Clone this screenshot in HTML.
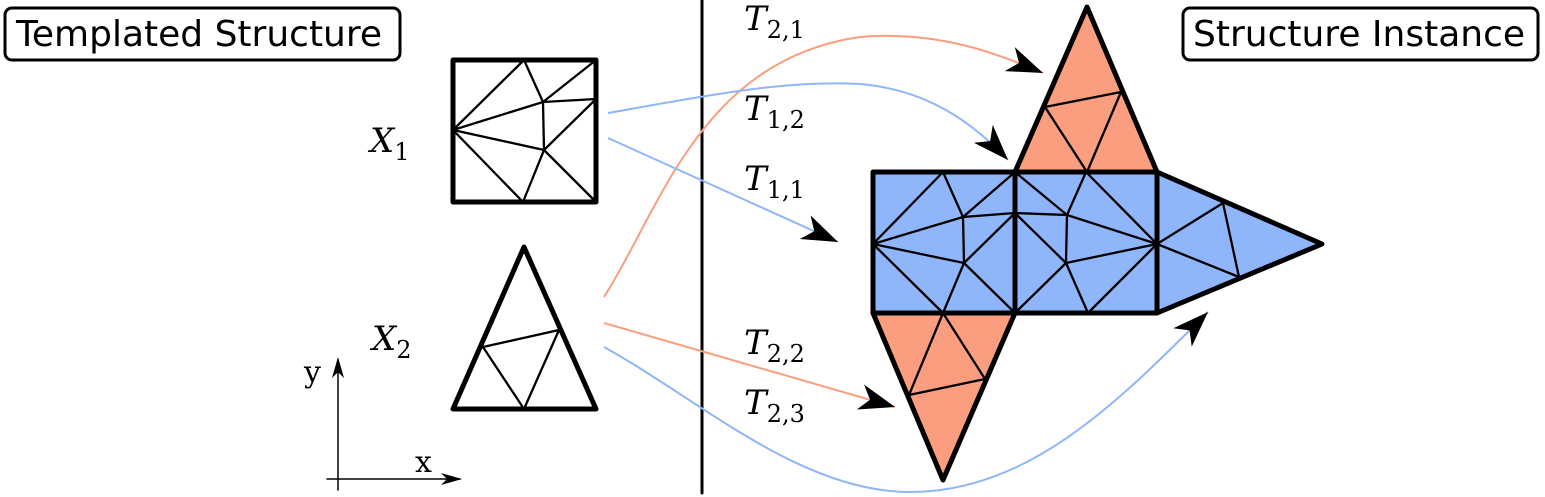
<!DOCTYPE html>
<html><head><meta charset="utf-8"><style>
html,body{margin:0;padding:0;background:#fff;}
svg{display:block;}
.lbl{font-family:"DejaVu Serif","Liberation Serif",serif;font-style:italic;font-size:34px;}
.sub{font-family:"DejaVu Serif","Liberation Serif",serif;font-style:normal;font-size:24px;}
.box{font-family:"DejaVu Sans","Liberation Sans",sans-serif;font-size:36px;}
</style></head><body>
<svg width="1545" height="497" viewBox="0 0 1545 497" xmlns="http://www.w3.org/2000/svg">
<defs>
<marker id="ah" markerUnits="userSpaceOnUse" markerWidth="40" markerHeight="30" refX="36" refY="15" orient="auto">
<path d="M0,2 L36,15 L0,28 L10,15 Z" fill="#000"/>
</marker>
</defs>
<g stroke="#000" stroke-linejoin="round" stroke-linecap="round" fill="none">
<rect x="5" y="8" width="395" height="52" rx="7" stroke-width="3"/>
<rect x="1183" y="8" width="355" height="52" rx="7" stroke-width="3"/>
<line x1="702" y1="0" x2="702" y2="493" stroke-width="3"/>
<g stroke-width="2.3">
<path d="M453,130 L524,60 L543,102 L596,60 M543,102 L596,99 M453,130 L543,102 L544,150 L453,130 M544,150 L596,99 M544,150 L596,202 M544,150 L523,202 L453,130"/>
</g>
<rect x="453" y="60" width="143" height="142" stroke-width="5"/>
<path d="M483,347 L559,330 L524,409 L483,347" stroke-width="2.3"/>
<path d="M524,247 L596,409 L453,409 Z" stroke-width="5"/>
<line x1="338" y1="490" x2="338" y2="360" stroke-width="1.5"/>
<path d="M338,357 L332,378 L338,372 L344,378 Z" fill="#000" stroke="none"/>
<line x1="327" y1="479" x2="460" y2="479" stroke-width="1.5"/>
<path d="M462,479 L441,473 L447,479 L441,485 Z" fill="#000" stroke="none"/>
</g>
<g stroke="#000" stroke-linejoin="round" stroke-linecap="round">
<path d="M1087,7 L1157,172 L1015,172 Z" fill="#fa9e7f" stroke="none"/>
<path d="M873,313 L1015,313 L943,480 Z" fill="#fa9e7f" stroke="none"/>
<path d="M873,172 L1157,172 L1322,244 L1157,313 L873,313 Z" fill="#8fb5fb" stroke="none"/>
<g fill="none" stroke-width="2.3">
<path d="M873,244 L943,172 L963,217 L1015,172 M963,217 L1015,213 M873,244 L963,217 L964,263 L873,244 M964,263 L1015,213 M964,263 L1015,313 M964,263 L943,313 L873,244"/>
<path d="M1015,172 L1067,215 L1086,172 L1157,244 M1015,213 L1067,215 L1157,244 M1067,215 L1066,263 L1157,244 M1015,213 L1066,263 L1015,313 M1066,263 L1088,313 L1157,244"/>
<path d="M1157,244 L1223,203 L1239,277 L1157,244"/>
<path d="M1045,107 L1121,92 L1087,172 L1045,107"/>
<path d="M909,395 L943,313 L985,379 L909,395"/>
</g>
<g fill="none" stroke-width="5">
<path d="M1087,7 L1157,172 L1015,172 Z"/>
<path d="M873,313 L1015,313 L943,480 Z"/>
<rect x="873" y="172" width="142" height="141"/>
<rect x="1015" y="172" width="142" height="141"/>
<path d="M1157,172 L1322,244 L1157,313"/>
</g>
</g>
<g fill="none" stroke-width="2">
<path d="M604,297 C 660,210 700,60 860,37 C 940,30 1000,55 1043,73" stroke="#fa9e7f" marker-end="url(#ah)"/>
<path d="M608,113 C 700,97 780,80 860,84 C 930,90 975,125 1008,160" stroke="#8fb5fb" marker-end="url(#ah)"/>
<path d="M608,138 L838,242" stroke="#8fb5fb" marker-end="url(#ah)"/>
<path d="M604,323 L895,407" stroke="#fa9e7f" marker-end="url(#ah)"/>
<path d="M604,347 C 700,400 800,492 910,492 C 1030,492 1120,400 1208,312" stroke="#8fb5fb" marker-end="url(#ah)"/>
</g>
<text x="16" y="46" class="box">Templated Structure</text>
<text x="1193" y="46" class="box">Structure Instance</text>
<text x="370" y="152" class="lbl">X<tspan class="sub" dy="8">1</tspan></text>
<text x="372" y="350" class="lbl">X<tspan class="sub" dy="8">2</tspan></text>
<text x="744" y="30" class="lbl">T<tspan class="sub" dy="8">2,1</tspan></text>
<text x="744" y="120" class="lbl">T<tspan class="sub" dy="8">1,2</tspan></text>
<text x="744" y="190" class="lbl">T<tspan class="sub" dy="8">1,1</tspan></text>
<text x="744" y="354" class="lbl">T<tspan class="sub" dy="8">2,2</tspan></text>
<text x="744" y="414" class="lbl">T<tspan class="sub" dy="8">2,3</tspan></text>
<text x="304" y="382" style="font-family:'DejaVu Serif','Liberation Serif',serif;font-size:30px;">y</text>
<text x="415" y="472" style="font-family:'DejaVu Serif','Liberation Serif',serif;font-size:30px;">x</text>
</svg>
</body></html>
